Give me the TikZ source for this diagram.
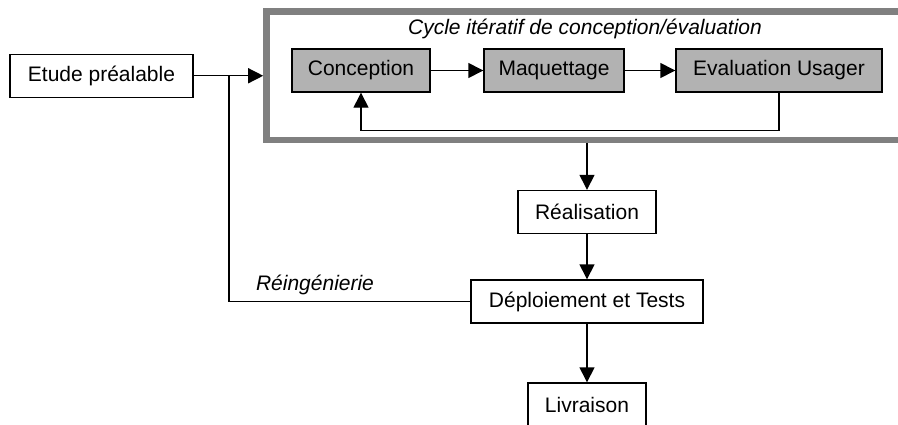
\documentclass[tikz,border=0pt]{standalone}
\usepackage{fontspec}
\setmainfont{Liberation Sans}
\usetikzlibrary{arrows.meta}
\begin{document}
\begin{tikzpicture}[x=0.5pt,y=-0.5pt,line join=miter,>={Triangle[length=7.5pt,width=7.5pt]},
		font=\fontsize{10.5}{12.6}\selectfont,
		boite/.style={draw,line width=0.7pt,inner sep=0pt,minimum height=21.5pt,fill=white},
		grise/.style={boite,fill=black!30},
		fleche/.style={->,line width=0.7pt}]
		\clip (0,0) rectangle (898,424);
		% cadre du cycle
		\node[draw=black!50,line width=3.3pt,minimum width=321.75pt,minimum height=64.25pt,inner sep=0pt] (cycle) at (588.25,75.75) {};
		\node[font=\fontsize{10.5}{12.6}\selectfont\itshape] (titre) at (585,29) {Cycle itératif de conception/évaluation};
		\node[boite,minimum width=91.5pt] (etude) at (101.5,75.75) {Etude préalable};
		\node[grise,minimum width=69pt] (conception) at (361,70.5) {Conception};
		\node[grise,minimum width=70pt] (maquettage) at (554,70.5) {Maquettage};
		\node[grise,minimum width=103pt] (evaluation) at (779,70.5) {Evaluation Usager};
		\node[boite,minimum width=69pt] (realisation) at (587,212) {Réalisation};
		\node[boite,minimum width=116pt] (deploiement) at (587,301.5) {Déploiement et Tests};
		\node[boite,minimum width=59pt] (livraison) at (587,404.5) {Livraison};
		\node[font=\fontsize{10.5}{12.6}\selectfont\itshape] (reing) at (315,285) {Réingénierie};
		\coordinate (jonction) at (229,75.75);
		\coordinate (retour) at (0,130.5);
		% liaisons
		\draw[fleche] (etude) -- (etude -| cycle.west);
		\draw[fleche] (conception) -- (maquettage);
		\draw[fleche] (maquettage) -- (evaluation);
		\draw[fleche] (evaluation.south) -- (evaluation.south |- retour) -| (conception.south);
		\draw[fleche] (realisation.north |- cycle.south) -- (realisation);
		\draw[fleche] (realisation) -- (deploiement);
		\draw[fleche] (deploiement) -- (livraison);
		\draw[line width=0.7pt] (deploiement.west) -| (jonction);
	\end{tikzpicture}
\end{document}
